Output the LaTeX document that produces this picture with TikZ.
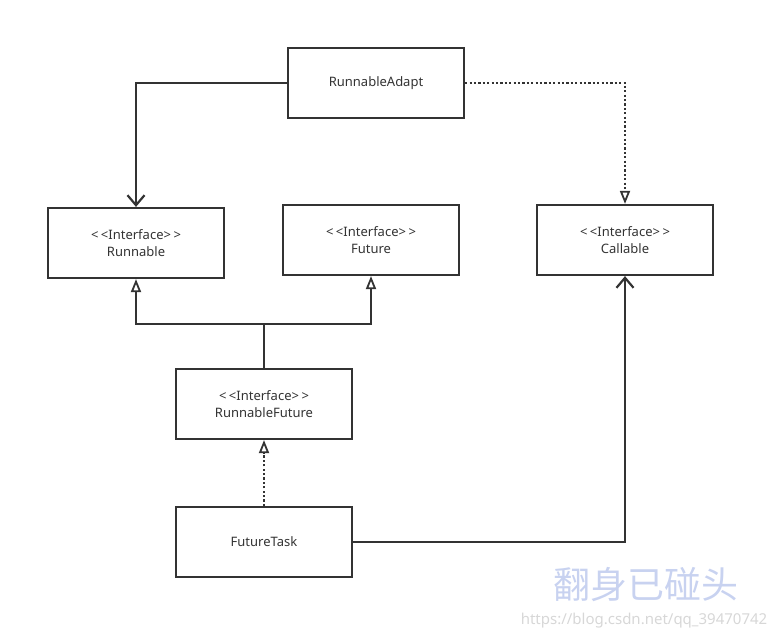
\documentclass[tikz,border=0pt]{standalone}
\usepackage{fontspec}
\setmainfont{Noto Sans}
\newfontfamily\cjk{Noto Sans CJK SC}
\usetikzlibrary{arrows.meta}
\definecolor{ink}{HTML}{333333}
\definecolor{wmblue}{RGB}{200,210,240}
\definecolor{wmgray}{RGB}{215,215,215}
\newcommand\intfmark{\textless\hspace{2.5pt}\textless Interface\textgreater\hspace{2.5pt}\textgreater}
\begin{document}
\begin{tikzpicture}[x=1pt,y=-1pt,
  box/.style={draw=ink,line width=2.2pt,minimum width=176pt,minimum height=70pt,inner sep=0pt,align=center,font=\fontsize{13}{16.5}\selectfont,text=ink},
  link/.style={draw=ink,line width=2.2pt},
  dotline/.style={draw=ink,line width=2.2pt,dash pattern=on 2.2pt off 2.2pt},
  tri/.style={-{Triangle[open,length=13pt,width=10pt,line width=1.8pt]}},
  vee/.style={-{Straight Barb[length=10pt,width=17pt,line width=2.2pt]}}]
\useasboundingbox (0,0) rectangle (775,639);
\node[box] (adapt) at (376,83) {RunnableAdapt};
\node[box] (runnable) at (136,243) {\intfmark\\Runnable};
\node[box] (future) at (371,240) {\intfmark\\Future};
\node[box] (callable) at (625,240) {\intfmark\\Callable};
\node[box] (rfuture) at (264,404) {\intfmark\\RunnableFuture};
\node[box] (task) at (264,542) {FutureTask};
\coordinate (j) at (264,324);
\draw[link,vee] (adapt.west) -| (runnable.north);
\draw[dotline,tri] (adapt.east) -| (callable.north);
\draw[link] (rfuture.north) -- (j);
\draw[link,tri] (j) -| (runnable.south);
\draw[link,tri] (j) -| (future.south);
\draw[dotline,tri] (task.north) -- (rfuture.south);
\draw[link,vee] (task.east) -| (callable.south);
\node[text=wmblue,font=\cjk\fontsize{37}{40}\selectfont,inner sep=0pt] (wm) at (646,585) {翻身已碰头};
\node[text=wmgray,font=\fontsize{15}{16}\selectfont,inner sep=0pt] (url) at (644,621) {https://blog.csdn.net/qq\_39470742};
\end{tikzpicture}
\end{document}
